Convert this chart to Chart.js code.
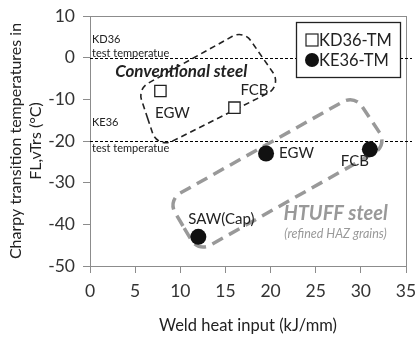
<!DOCTYPE html>
<html><head><meta charset="utf-8">
<script src="https://cdn.jsdelivr.net/npm/chart.js@4/dist/chart.umd.min.js"></script>
<style>html,body{margin:0;padding:0;background:#fff;}#wrap{width:418px;height:338px;}</style>
</head><body><div id="wrap"><canvas id="c" width="418" height="338"></canvas></div>
<script>
// ---- data ----
const seriesNames = ['KD36-TM', 'KE36-TM'];
const kd36X = [7.8, 16];
const kd36Y = [-8, -12];
const kd36Labels = ['EGW', 'FCB'];
const ke36X = [19.5, 31, 12];
const ke36Y = [-23, -22, -43];
const ke36Labels = ['EGW', 'FCB', 'SAW(Cap)'];
const testTemps = [0, -20];
const testNames = ['KD36', 'KE36'];
const groupNames = ['Conventional steel', 'HTUFF steel'];
const groupSub = '(refined HAZ grains)';
// group outlines (data units)
const convBoxX = [5.3, 17.0, 21.3, 7.5];
const convBoxY = [-7.5, 6.6, -6.8, -21.8];
const htuffBoxX = [8.6, 29.3, 33.0, 12.0];
const htuffBoxY = [-34.2, -9.0, -21.0, -46.6];

const FONT = 'Lato, "Open Sans", sans-serif';

function roundedPoly(ctx, pts, r) {
  const n = pts.length;
  ctx.beginPath();
  const mid = (a, b) => [(a[0] + b[0]) / 2, (a[1] + b[1]) / 2];
  const s = mid(pts[n - 1], pts[0]);
  ctx.moveTo(s[0], s[1]);
  for (let i = 0; i < n; i++) {
    const p = pts[i], q = pts[(i + 1) % n];
    const m = mid(p, q);
    ctx.arcTo(p[0], p[1], m[0], m[1], r);
  }
  ctx.closePath();
}

const overlay = {
  id: 'overlay',
  beforeDatasetsDraw(chart) {
    const { ctx, chartArea: a, scales: { x, y } } = chart;
    ctx.save();
    // frame
    ctx.strokeStyle = '#8c8c8c';
    ctx.lineWidth = 1;
    ctx.strokeRect(a.left + 0.5, a.top + 0.5, a.right - a.left, a.bottom - a.top);
    // test temperature lines
    ctx.strokeStyle = '#000';
    ctx.lineWidth = 1.2;
    testTemps.forEach((t, i) => {
      const py = Math.round(y.getPixelForValue(t)) + 0.5;
      ctx.setLineDash([3, 2]);
      ctx.beginPath(); ctx.moveTo(a.left, py); ctx.lineTo(a.right + 6, py); ctx.stroke();
      ctx.setLineDash([]);
      ctx.fillStyle = '#222';
      ctx.font = '11px ' + FONT;
      ctx.textAlign = 'left'; ctx.textBaseline = 'alphabetic';
      ctx.fillText(testNames[i], a.left + 2, py - 16);
      ctx.fillText('test temperatue', a.left + 2, py - 2 + (i === 1 ? 12 : 0));
    });
    ctx.setLineDash([]);
    // group outlines
    const toPx = (xs, ys) => xs.map((v, i) => [x.getPixelForValue(v), y.getPixelForValue(ys[i])]);
    ctx.strokeStyle = '#222'; ctx.lineWidth = 1.6; ctx.setLineDash([6, 4]);
    roundedPoly(ctx, toPx(convBoxX, convBoxY), 14); ctx.stroke();
    ctx.strokeStyle = '#999'; ctx.lineWidth = 3.5; ctx.setLineDash([12, 7]);
    roundedPoly(ctx, toPx(htuffBoxX, htuffBoxY), 14); ctx.stroke();
    ctx.setLineDash([]);
    // group titles
    ctx.fillStyle = '#222';
    ctx.font = 'italic bold 17px ' + FONT;
    ctx.textAlign = 'center'; ctx.textBaseline = 'middle';
    ctx.fillText(groupNames[0], x.getPixelForValue(10.1), y.getPixelForValue(-3.4));
    ctx.fillStyle = '#999';
    ctx.font = 'italic bold 20px ' + FONT;
    ctx.fillText(groupNames[1], x.getPixelForValue(27.2), y.getPixelForValue(-37.3));
    ctx.font = 'italic 12.5px ' + FONT;
    ctx.fillText(groupSub, x.getPixelForValue(27.2), y.getPixelForValue(-42.3));
    ctx.restore();
  },
  afterDatasetsDraw(chart) {
    const { ctx, chartArea: a } = chart;
    ctx.save();
    // point labels
    ctx.fillStyle = '#222';
    ctx.font = '15px ' + FONT;
    ctx.textBaseline = 'middle';
    chart.data.datasets.forEach((ds, di) => {
      const meta = chart.getDatasetMeta(di);
      meta.data.forEach((el, i) => {
        const off = ds.labelOffsets[i];
        ctx.textAlign = off[2];
        ctx.fillText(ds.pointLabels[i], el.x + off[0], el.y + off[1]);
      });
    });
    // legend
    const lx = a.right - 110, ly = a.top + 6, lw = 104, lh = 55;
    ctx.fillStyle = '#fff';
    ctx.fillRect(lx, ly, lw, lh);
    ctx.strokeStyle = '#222'; ctx.lineWidth = 1.3;
    ctx.strokeRect(lx + 0.5, ly + 0.5, lw, lh);
    ctx.font = '16.5px ' + FONT;
    ctx.textAlign = 'left'; ctx.textBaseline = 'middle';
    chart.data.datasets.forEach((ds, i) => {
      const cy = ly + 18 + i * 20;
      const cx = lx + 16;
      ctx.lineWidth = 1.2; ctx.strokeStyle = '#222';
      if (ds.pointStyle === 'rect') {
        ctx.fillStyle = '#fff';
        ctx.fillRect(cx - 6, cy - 6, 12, 12);
        ctx.strokeRect(cx - 6, cy - 6, 12, 12);
      } else {
        ctx.fillStyle = '#111';
        ctx.beginPath(); ctx.arc(cx, cy, 7, 0, Math.PI * 2); ctx.fill();
      }
      ctx.fillStyle = '#222';
      ctx.fillText(ds.label, cx + 7, cy + 1);
    });
    ctx.restore();
  }
};

new Chart(document.getElementById('c'), {
  type: 'scatter',
  data: {
    datasets: [
      {
        label: seriesNames[0],
        data: kd36X.map((v, i) => ({ x: v, y: kd36Y[i] })),
        pointStyle: 'rect', pointRadius: 8, pointBorderWidth: 1.3,
        backgroundColor: '#fff', borderColor: '#222',
        pointLabels: kd36Labels,
        labelOffsets: [[12, 22, 'center'], [20, -18, 'center']]
      },
      {
        label: seriesNames[1],
        data: ke36X.map((v, i) => ({ x: v, y: ke36Y[i] })),
        pointStyle: 'circle', pointRadius: 8, pointBorderWidth: 0,
        backgroundColor: '#111', borderColor: '#111',
        pointLabels: ke36Labels,
        labelOffsets: [[13, 0, 'left'], [-15, 12, 'center'], [23, -18, 'center']]
      }
    ]
  },
  options: {
    responsive: false, animation: false,
    layout: { padding: { top: 16, right: 12, left: 0, bottom: 0 } },
    plugins: { legend: { display: false }, tooltip: { enabled: false } },
    scales: {
      x: {
        type: 'linear', min: 0, max: 35,
        ticks: { stepSize: 5, font: { family: FONT, size: 17.5 }, color: '#333', padding: 8 },
        grid: { drawOnChartArea: false, drawTicks: true, tickLength: 7, color: '#8c8c8c' },
        border: { color: '#8c8c8c' },
        title: { display: true, text: 'Weld heat input (kJ/mm)', font: { family: FONT, size: 16.5 }, color: '#222', padding: { top: 4, bottom: 2 } },
        afterFit(s) { s.height = 72; s.paddingLeft = 0; s.paddingRight = 0; }
      },
      y: {
        type: 'linear', min: -50, max: 10,
        ticks: { stepSize: 10, font: { family: FONT, size: 17.5 }, color: '#333', padding: 8 },
        grid: { drawOnChartArea: false, drawTicks: true, tickLength: 7, color: '#8c8c8c' },
        border: { color: '#8c8c8c' },
        title: { display: true, text: ['Charpy transition temperatures in', 'FL,vTrs (\u00b0C)'], font: { family: FONT, size: 16, lineHeight: 1.3 }, color: '#222', padding: { top: 5, bottom: 0 } },
        afterFit(s) { s.width = 90; s.paddingTop = 0; s.paddingBottom = 0; }
      }
    }
  },
  plugins: [overlay]
});
</script>
</body></html>
